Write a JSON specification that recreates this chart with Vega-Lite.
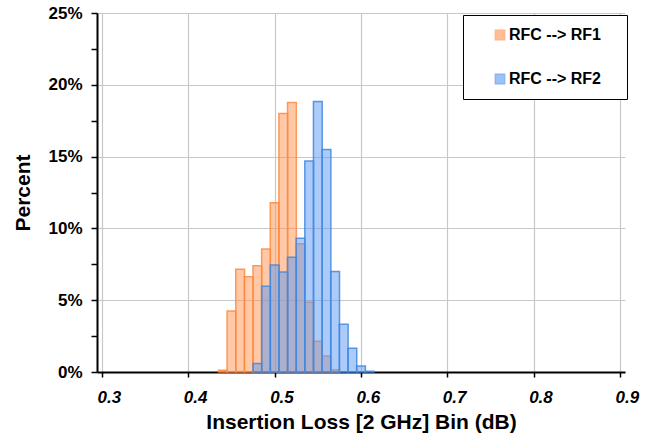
{
  "$schema": "https://vega.github.io/schema/vega-lite/v6.json",
  "autosize": {"type": "none"},
  "padding": {"left": 97, "top": 13, "right": 38, "bottom": 71},
  "width": 528,
  "height": 359,
  "background": "white",
  "config": {
    "font": "Liberation Sans",
    "view": {"stroke": null},
    "axis": {
      "domainColor": "black",
      "domainWidth": 2,
      "tickColor": "black",
      "tickWidth": 1.5,
      "gridColor": "#C8C8C8",
      "gridWidth": 1.2,
      "labelFont": "Liberation Sans",
      "labelFontWeight": "bold",
      "labelColor": "black",
      "titleFont": "Liberation Sans",
      "titleFontWeight": "bold",
      "titleColor": "black"
    },
    "legend": {
      "orient": "none",
      "legendX": 366,
      "legendY": 2,
      "direction": "vertical",
      "strokeColor": "black",
      "fillColor": "white",
      "padding": 12,
      "rowPadding": 28,
      "symbolType": "square",
      "symbolSize": 86,
      "symbolOffset": 17,
      "symbolStrokeWidth": 1.5,
      "symbolOpacity": 0.6,
      "labelOffset": 1,
      "labelFont": "Liberation Sans",
      "labelFontSize": 16,
      "labelFontWeight": "bold",
      "labelColor": "black",
      "labelLimit": 300,
      "titleOrient": "right",
      "titlePadding": 14,
      "titleFontSize": 8,
      "titleColor": "white"
    }
  },
  "data": {
    "values": [
      {"series": "RFC --> RF1", "loss": 0.44, "pct": 0.12},
      {"series": "RFC --> RF1", "loss": 0.45, "pct": 4.25},
      {"series": "RFC --> RF1", "loss": 0.46, "pct": 7.15},
      {"series": "RFC --> RF1", "loss": 0.47, "pct": 6.64},
      {"series": "RFC --> RF1", "loss": 0.48, "pct": 7.4},
      {"series": "RFC --> RF1", "loss": 0.49, "pct": 8.57},
      {"series": "RFC --> RF1", "loss": 0.50, "pct": 11.78},
      {"series": "RFC --> RF1", "loss": 0.51, "pct": 18.0},
      {"series": "RFC --> RF1", "loss": 0.52, "pct": 18.76},
      {"series": "RFC --> RF1", "loss": 0.53, "pct": 8.93},
      {"series": "RFC --> RF1", "loss": 0.54, "pct": 4.86},
      {"series": "RFC --> RF1", "loss": 0.55, "pct": 2.15},
      {"series": "RFC --> RF1", "loss": 0.56, "pct": 1.12},
      {"series": "RFC --> RF1", "loss": 0.57, "pct": 0.16},
      {"series": "RFC --> RF2", "loss": 0.48, "pct": 0.6},
      {"series": "RFC --> RF2", "loss": 0.49, "pct": 5.98},
      {"series": "RFC --> RF2", "loss": 0.50, "pct": 7.45},
      {"series": "RFC --> RF2", "loss": 0.51, "pct": 6.96},
      {"series": "RFC --> RF2", "loss": 0.52, "pct": 7.99},
      {"series": "RFC --> RF2", "loss": 0.53, "pct": 9.32},
      {"series": "RFC --> RF2", "loss": 0.54, "pct": 14.7},
      {"series": "RFC --> RF2", "loss": 0.55, "pct": 18.83},
      {"series": "RFC --> RF2", "loss": 0.56, "pct": 15.49},
      {"series": "RFC --> RF2", "loss": 0.57, "pct": 7.0},
      {"series": "RFC --> RF2", "loss": 0.58, "pct": 3.32},
      {"series": "RFC --> RF2", "loss": 0.59, "pct": 1.66},
      {"series": "RFC --> RF2", "loss": 0.60, "pct": 0.42},
      {"series": "RFC --> RF2", "loss": 0.61, "pct": 0.05}
    ]
  },
  "mark": {"type": "bar", "width": 8.8, "fillOpacity": 0.5, "strokeWidth": 1.5, "strokeOpacity": 0.85},
  "encoding": {
    "x": {
      "field": "loss",
      "type": "quantitative",
      "scale": {"domain": [0.3, 0.9], "nice": false, "zero": false},
      "axis": {
        "values": [0.3, 0.4, 0.5, 0.6, 0.7, 0.8, 0.9],
        "format": ".1f",
        "title": "Insertion Loss [2 GHz] Bin (dB)",
        "titleFontSize": 21,
        "titlePadding": 6,
        "labelFontSize": 17,
        "labelFontStyle": "italic",
        "labelAlign": "left",
        "labelOffset": -5,
        "labelPadding": 12,
        "tickSize": 5,
        "labelFlush": false,
        "labelOverlap": false
      }
    },
    "y": {
      "field": "pct",
      "type": "quantitative",
      "stack": null,
      "scale": {"domain": [0, 25], "nice": false},
      "axis": {
        "values": [0, 2.5, 5, 7.5, 10, 12.5, 15, 17.5, 20, 22.5, 25],
        "labelExpr": "datum.value % 5 == 0 ? datum.value + '%' : ''",
        "gridOpacity": {"condition": {"test": "datum.value % 5 != 0", "value": 0}, "value": 1},
        "title": "Percent",
        "titleFontSize": 21,
        "titlePadding": 14,
        "labelFontSize": 17,
        "labelPadding": 9,
        "tickSize": 6,
        "labelOverlap": false
      }
    },
    "fill": {
      "field": "series",
      "type": "nominal",
      "scale": {"domain": ["RFC --> RF1", "RFC --> RF2"], "range": ["#FF9452", "#5A98F2"]},
      "legend": {"title": " ", "labelFontSize": 16}
    },
    "stroke": {
      "field": "series",
      "type": "nominal",
      "scale": {"domain": ["RFC --> RF1", "RFC --> RF2"], "range": ["#FF8A40", "#3F88E0"]},
      "legend": {"title": " ", "labelFontSize": 16}
    }
  }
}
